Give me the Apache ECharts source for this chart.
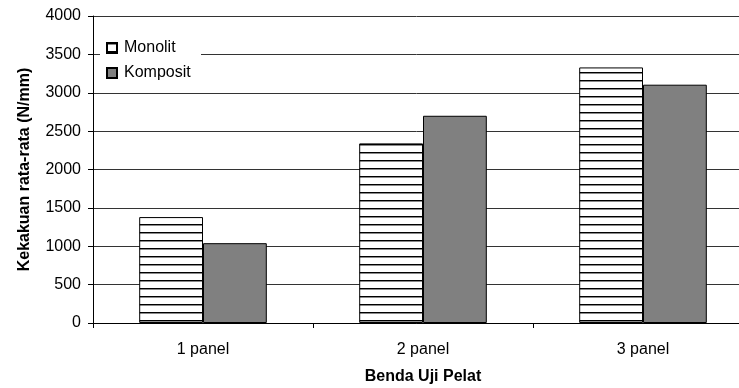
<!DOCTYPE html>
<html>
<head>
<meta charset="utf-8">
<script src="https://cdn.jsdelivr.net/npm/echarts@6/dist/echarts.min.js"></script>
<style>
  html, body { margin: 0; padding: 0; background: #fff; }
  #chart { width: 739px; height: 388px; }
</style>
</head>
<body>
<div id="chart"></div>
<script>
// Average stiffness per specimen type
const categories = ['1 panel', '2 panel', '3 panel'];
const monolitValues = [1380, 2340, 3330];
const kompositValues = [1040, 2700, 3105];
const seriesNames = ['Monolit', 'Komposit'];
const yTicks = { min: 0, max: 4000, step: 500 };

// Horizontal hatch fill for the Monolit bars
function makeHatch() {
  const c = document.createElement('canvas');
  c.width = 4;
  c.height = 8;
  const g = c.getContext('2d');
  g.fillStyle = '#ffffff';
  g.fillRect(0, 0, 4, 8);
  g.fillStyle = '#000000';
  g.fillRect(0, 0, 4, 1);
  g.fillStyle = '#8a8a8a';
  g.fillRect(0, 1, 4, 1);
  return c;
}

const chart = echarts.init(document.getElementById('chart'), null, { renderer: 'canvas' });
const font = 'Arial, "Liberation Sans", sans-serif';
const hatch = { image: makeHatch(), repeat: 'repeat' };

chart.setOption({
  animation: false,
  backgroundColor: '#ffffff',
  textStyle: { fontFamily: font },
  grid: {
    left: 93, top: 16, right: -14, bottom: 65,
    containLabel: false,
    outerBoundsMode: 'none'
  },
  legend: {
    orient: 'vertical',
    left: 100,
    top: 35,
    padding: [4, 6],
    itemWidth: 10,
    itemHeight: 10,
    itemGap: 7,
    icon: 'rect',
    backgroundColor: '#ffffff',
    textStyle: {
      fontSize: 16, color: '#000', lineHeight: 18, width: 71,
      padding: [0, 0, 0, 2], fontFamily: font
    },
    data: seriesNames
  },
  xAxis: {
    type: 'category',
    data: categories,
    name: 'Benda Uji Pelat',
    nameLocation: 'middle',
    nameGap: 46,
    nameTextStyle: { fontSize: 16, fontWeight: 'bold', color: '#000', fontFamily: font },
    axisLine: { lineStyle: { color: '#000', width: 1 } },
    axisTick: { show: true, length: 5, inside: false, lineStyle: { color: '#000' } },
    axisLabel: { fontSize: 16, color: '#000', margin: 19, fontFamily: font }
  },
  yAxis: {
    type: 'value',
    min: yTicks.min,
    max: yTicks.max,
    interval: yTicks.step,
    name: 'Kekakuan rata-rata (N/mm)',
    nameLocation: 'middle',
    nameGap: 60,
    nameRotate: 90,
    nameTextStyle: { fontSize: 16, fontWeight: 'bold', color: '#000', fontFamily: font },
    axisLine: { show: true, lineStyle: { color: '#000', width: 1 } },
    axisTick: { show: true, length: 5, lineStyle: { color: '#000' } },
    axisLabel: {
      fontSize: 16, color: '#000', margin: 12, fontFamily: font,
      formatter: v => String(v)
    },
    splitLine: { show: true, lineStyle: { color: '#333', width: 1 } }
  },
  series: [
    {
      name: seriesNames[0],
      type: 'bar',
      data: monolitValues,
      barGap: '0%',
      barCategoryGap: '42%',
      itemStyle: { color: hatch, borderColor: '#000', borderWidth: 1 }
    },
    {
      name: seriesNames[1],
      type: 'bar',
      data: kompositValues,
      barGap: '0%',
      barCategoryGap: '42%',
      itemStyle: { color: '#808080', borderColor: '#000', borderWidth: 1 }
    }
  ]
});
</script>
</body>
</html>
